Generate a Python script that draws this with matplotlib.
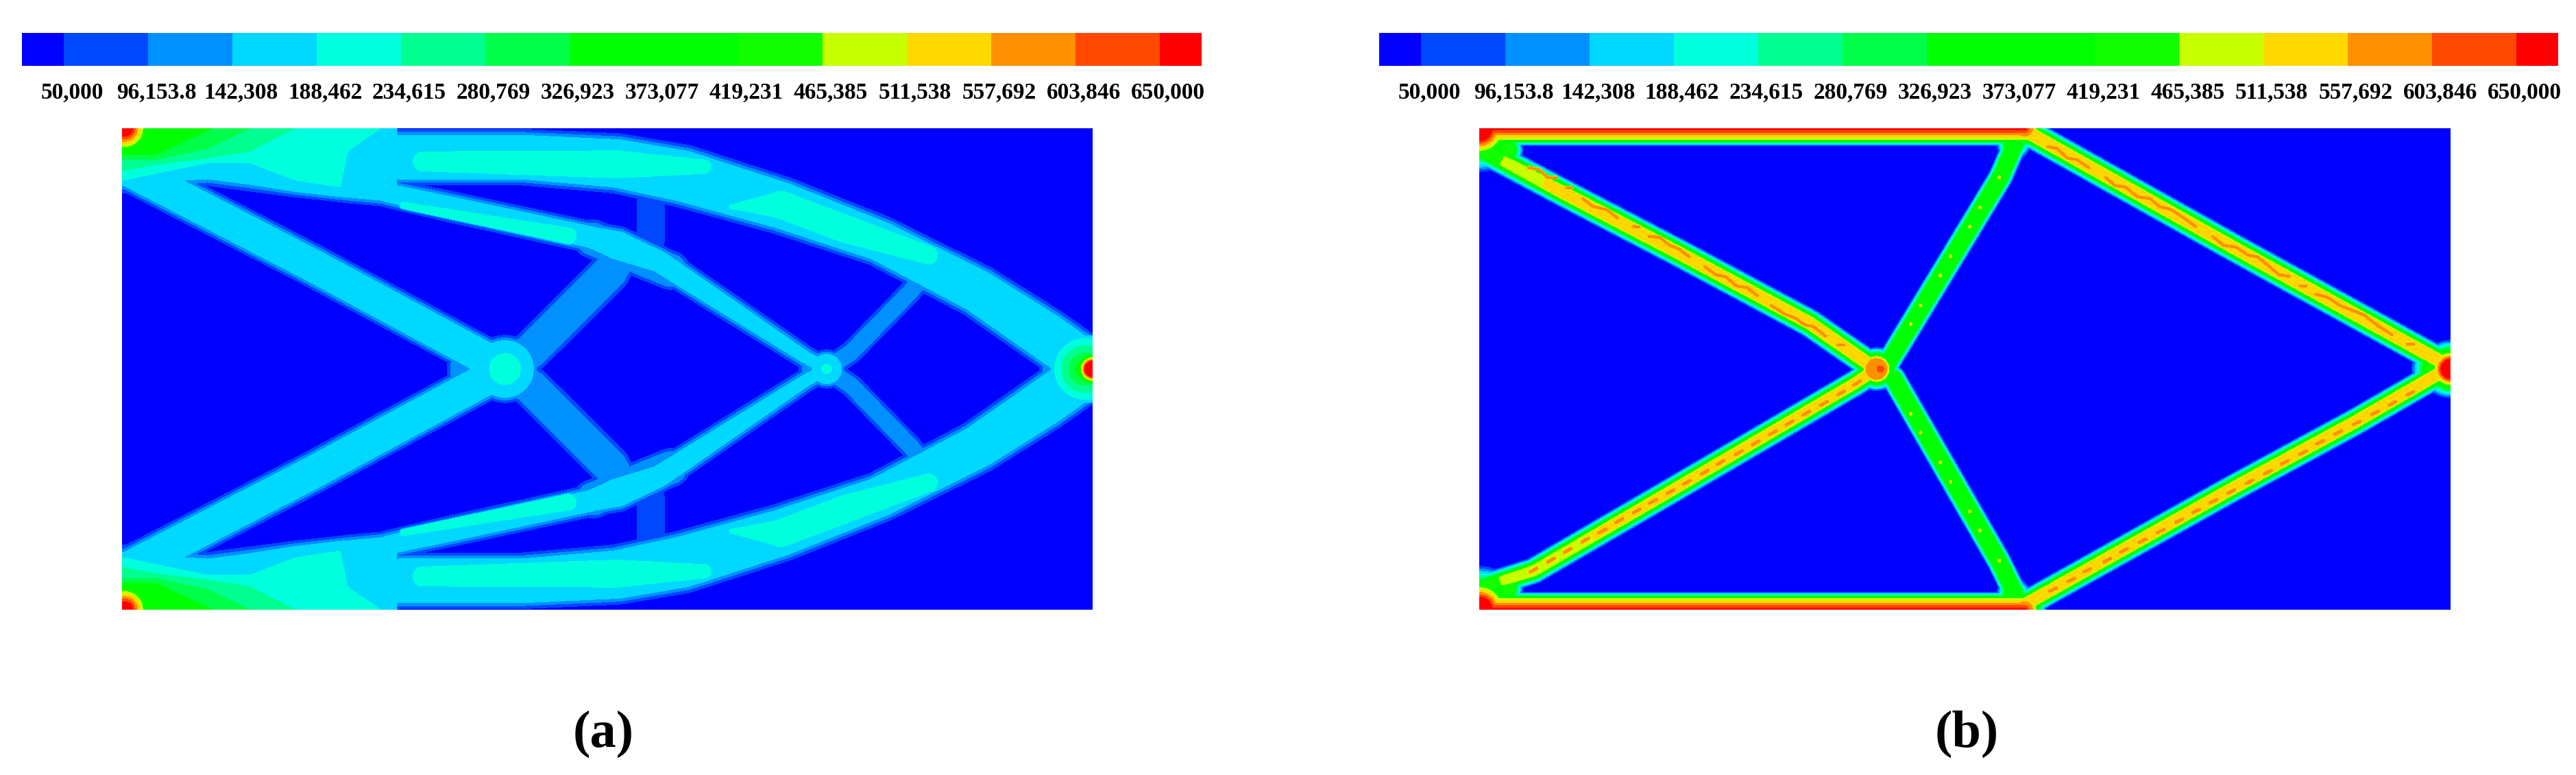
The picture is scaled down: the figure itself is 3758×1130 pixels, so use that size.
import numpy as np
import matplotlib
matplotlib.use("Agg")
import matplotlib.pyplot as plt
from matplotlib.transforms import ScaledTranslation

plt.rcParams['font.family'] = ['Liberation Serif', 'DejaVu Serif']

W, H = 3758, 1130
levels = [50000, 96153.8, 142308, 188462, 234615, 280769, 326923, 373077,
          419231, 465385, 511538, 557692, 603846, 650000]
level_labels = ['50,000', '96,153.8', '142,308', '188,462', '234,615', '280,769', '326,923',
                '373,077', '419,231', '465,385', '511,538', '557,692', '603,846', '650,000']
band_colors = ['#0000FF', '#0048FF', '#0090FF', '#00D8FF', '#00FFDC', '#00FF90', '#00FF48',
               '#00FF00', '#00FF00', '#12FF00', '#C8FF00', '#FFD800', '#FF9000', '#FF4800', '#FF0000']
panel_letters = ['(a)', '(b)']
BASE = 50000.0

# ---- Panel (a): stress field, top half (mirrored) ---------------------------
# Top-left band: depth (picture rows) at which each stress level is crossed, per station.
band_stations = [55, 150, 300, 420, 550, 680, 700, 795, 840]
band_stress = [390e3, 327e3, 281e3, 234e3, 188e3, 142e3, 96e3, 50e3]
band_depths = [[60, 55, -90, -90, -90, -90, -90, -90, -90],
               [120, 120, 45, -40, -60, -60, -60, -60, -60],
               [135, 135, 100, 38, -20, -40, -40, -40, -40],
               [170, 150, 130, 110, 38, 0, -20, -20, -20],
               [200, 178, 145, 145, 200, 222, 110, 38, 10],
               [215, 205, 195, 212, 234, 250, 252, 262, 266],
               [225, 218, 205, 222, 242, 258, 260, 270, 274],
               [238, 230, 215, 232, 250, 265, 268, 277, 282]]

# each entry: points, half width, peak stress, edge width, base stress
a_main_strut = ([(0, .42), (.393, .215), (.789, 0)], .044, 168e3, .014, BASE)
a_upper_chord = ([(.573, .44), (.825, .44), (1.02, .427), (1.155, .401), (1.358, .34),
                  (1.561, .266), (1.763, .162), (1.898, .072), (2, 0)],
                 [.058, .058, .062, .065, .06, .053, .056, .06, .06], 168e3, .016, BASE)
a_lower_chord = ([(.55, .365), (.681, .336), (.969, .273), (1.02, .257), (1.107, .223),
                  (1.407, .025), (1.452, 0)],
                 [.03, .032, .033, .04, .033, .024, .024], [165e3] * 5 + [158e3] * 2, .014, BASE)
a_lobe_skirt = ([(.97, .27), (1.13, .205)], .04, 120e3, .01, BASE)
a_cross_1 = ([(.789, 0), (.843, .038), (1.005, .201), (1.05, .25)], [.042, .042, .042, .028], 120e3, .011, BASE)
a_cross_2 = ([(1.452, 0), (1.503, .035), (1.623, .159), (1.65, .19)], .023, 120e3, .01, BASE)
a_web = ([(1.09, .35), (1.09, .27)], .028, 90e3, .01, BASE)
a_blobs = [([(1.43, 0)], .035, 120e3, .01, BASE),
           ([(.73, 0)], .06, 120e3, .01, BASE),
           ([(1.94, 0)], .05, 120e3, .012, BASE),
           ([(.789, 0)], .07, 168e3, .014, BASE),
           ([(.789, 0)], .035, 215e3, .006, 168e3),
           ([(1.452, 0)], .04, 168e3, .012, BASE),
           ([(1.452, 0)], .012, 210e3, .004, 168e3),
           ([(1.985, 0)], .07, 340e3, .055, 168e3),
           ([(2, 0)], .03, 800e3, .02, 300e3),
           ([(.005, .5)], .045, 800e3, .045, 400e3)]
a_patches = [([(.62, .431), (1.02, .425), (1.2, .42)], [.022, .03, .016], 215e3, .004, 168e3),
             ([(.58, .34), (.92, .277)], [.008, .018], 215e3, .004, 168e3),
             ([(1.256, .337), (1.358, .341), (1.493, .29), (1.662, .236)],
              [.006, .03, .03, .02], 215e3, .004, 168e3)]

# ---- Panel (b): points read in picture pixels of the two crops ---------------
b_left_upper = [(55, 100), (300, 240), (620, 420), (1000, 640), (1190, 782)]
b_left_lower = [(55, 1458), (210, 1405), (600, 1160), (1130, 825), (1190, 782)]
b_right_upper = [(120, 45), (800, 405), (1512, 775)]
b_right_lower = [(100, 1520), (800, 1150), (1200, 945), (1512, 775)]
b_zig_left = [[(195, 160), (225, 165), (250, 190), (275, 190)], [(305, 222), (318, 222)],
              [(350, 255), (380, 280), (420, 290), (450, 315)], [(495, 342), (512, 342)],
              [(540, 372), (570, 375), (600, 400), (625, 410), (655, 435)],
              [(700, 465), (730, 490), (760, 497), (790, 525), (820, 530), (850, 555)],
              [(890, 585), (925, 610), (960, 625), (985, 645), (1010, 650), (1045, 680)],
              [(1080, 707), (1098, 707)]]
b_zig_right = [[(195, 95), (225, 100), (260, 130), (290, 135), (330, 160)],
               [(385, 190), (415, 215), (450, 220), (490, 250), (530, 255), (560, 280),
                (600, 290), (640, 315), (680, 342)],
               [(735, 372), (770, 400), (810, 405), (850, 430), (880, 435), (920, 465),
                (950, 490), (985, 495)],
               [(1020, 525), (1040, 525)],
               [(1070, 550), (1110, 560), (1150, 585), (1190, 600), (1230, 615), (1270, 645),
                (1320, 675)],
               [(1370, 705), (1392, 705)]]
b_dash_left = [(210, 1403), (260, 1372), (308, 1342), (358, 1310), (407, 1282), (455, 1250),
               (505, 1220), (552, 1190), (602, 1160), (648, 1132), (700, 1100), (745, 1070),
               (797, 1040), (845, 1010), (895, 978), (942, 948), (990, 918), (1040, 888),
               (1090, 855), (1135, 825)]
b_dash_right = [(213, 1463), (272, 1433), (325, 1403), (390, 1372), (445, 1342), (505, 1312),
                (565, 1282), (625, 1250), (680, 1220), (737, 1190), (795, 1160), (855, 1130),
                (915, 1100), (970, 1070), (1030, 1040), (1085, 1008), (1145, 978), (1205, 948),
                (1265, 917), (1322, 888), (1380, 857)]
b_dots = [(1542, 190), (1486, 283), (1457, 342), (1402, 433), (1373, 493), (1317, 585), (1288, 643),
          (1288, 920), (1317, 978), (1373, 1070), (1402, 1130), (1457, 1222), (1486, 1280), (1542, 1373)]
b_member_up = [(.839, .008), (1.073, .398), (1.10, .46)]
b_member_down = [(.853, -.019), (1.07, -.399), (1.10, -.46)]
b_chord_x_end = 1.123


def lf(p):   # left crop of panel (b)
    return ((p[0] / 1.96 - 28) / 708.5, .5 - (p[1] - 38) / 1487)


def rt(p):   # right crop of panel (b)
    return ((742 + p[0] / 2.24) / 708.5, .5 - (p[1] - 38) / 1487)


nx, ny = 1401, 701
xg = np.linspace(0, 2, nx)
yg = np.linspace(-.5, .5, ny)
Xg, Yg = np.meshgrid(xg, yg)


def add(F, YY, pts, hw, peak, edge, base=BASE):
    pts = np.asarray(pts, float)
    n = len(pts)
    hw = np.broadcast_to(hw, (n,)).astype(float)
    peak = np.broadcast_to(peak, (n,)).astype(float)
    edge = np.broadcast_to(edge, (n,)).astype(float)
    if n == 1:
        pts = np.vstack([pts, pts]); hw = np.r_[hw, hw]; peak = np.r_[peak, peak]; edge = np.r_[edge, edge]
        n = 2
    for i in range(n - 1):
        a, b = pts[i], pts[i + 1]
        ab = b - a
        L2 = max(ab @ ab, 1e-12)
        t = np.clip(((Xg - a[0]) * ab[0] + (YY - a[1]) * ab[1]) / L2, 0, 1)
        d = np.hypot(Xg - a[0] - t * ab[0], YY - a[1] - t * ab[1])
        h = hw[i] + t * (hw[i + 1] - hw[i])
        pk = peak[i] + t * (peak[i + 1] - peak[i])
        e = edge[i] + t * (edge[i + 1] - edge[i])
        v = np.minimum(base + (pk - base) * (h - d) / e, pk)
        if base > BASE:
            v = np.where(d < h, v, 0)
        F = np.maximum(F, v)
    return F


def top_band(F, YY):
    st_x = (np.array(band_stations) / 1.96 - 28) / 708
    depth = (.5 - YY)
    rows = (np.array(band_depths, float) - 38) / 1487
    for j in range(nx):
        if xg[j] > st_x[-1]:
            break
        col = [np.interp(xg[j], st_x, r) for r in rows]
        dL = np.r_[-1.0, col, col[-1] + .02]
        vL = np.r_[700e3, band_stress, 0.0]
        v = np.interp(depth[:, j], dL, vL)
        F[:, j] = np.maximum(F[:, j], v)
    return F


# panel (a)
Fa = np.zeros_like(Xg)
Ya = np.abs(Yg)
Fa = top_band(Fa, Ya)
for item in [a_main_strut, a_upper_chord, a_lower_chord, a_lobe_skirt, a_cross_1, a_cross_2, a_web] + a_blobs + a_patches:
    Fa = add(Fa, Ya, *item)

# panel (b)
Fb = np.zeros_like(Xg)
for sign in (1, -1):
    chord = [(0, sign * .5), (b_chord_x_end, sign * .5)]
    Fb = add(Fb, Yg, chord, .037, 465e3, .014)
    Fb = add(Fb, Yg, chord, .024, 690e3, .024, 465e3)
    Fb = add(Fb, Yg, [(0, sign * .5)], .09, 900e3, .09)
    Fb = add(Fb, Yg, [(b_chord_x_end, sign * .5)], .045, 585e3, .03)
    Fb = add(Fb, Yg, [(1.10, sign * .47)], .035, 400e3, .02)
    Fb = add(Fb, Yg, [(.06, sign * .455)], .03, 450e3, .02)
Fb = add(Fb, Yg, [lf(p) for p in b_left_upper], .029, [440e3, 535e3, 535e3, 535e3, 535e3], .019)
Fb = add(Fb, Yg, [lf(p) for p in b_left_lower], .027, [440e3, 505e3, 520e3, 520e3, 520e3], .018)
Fb = add(Fb, Yg, [rt(p) for p in b_right_upper], .029, 535e3, .019)
Fb = add(Fb, Yg, [rt(p) for p in b_right_lower], .028, 525e3, .018)
Fb = add(Fb, Yg, b_member_up, .025, 400e3, .012)
Fb = add(Fb, Yg, b_member_down, .025, 400e3, .012)
for z in b_zig_left:
    Fb = add(Fb, Yg, [lf(p) for p in z], .003, 585e3, .0015, 530e3)
for z in b_zig_right:
    Fb = add(Fb, Yg, [rt(p) for p in z], .003, 585e3, .0015, 530e3)
for c in b_dash_left:
    cx, cy = lf(c)
    Fb = add(Fb, Yg, [(cx - .007, cy - .004), (cx + .007, cy + .004)], .0035, 585e3, .0015, 515e3)
for c in b_dash_right:
    cx, cy = rt(c)
    Fb = add(Fb, Yg, [(cx - .007, cy - .0035), (cx + .007, cy + .0035)], .0035, 585e3, .0015, 515e3)
for c in b_dots:
    Fb = add(Fb, Yg, [lf(c)], .004, 520e3, .002, 400e3)
Fb = add(Fb, Yg, [(.818, 0)], .045, 590e3, .025)
Fb = add(Fb, Yg, [(.826, 0)], .008, 630e3, .003, 590e3)
Fb = add(Fb, Yg, [(2, 0)], .06, 800e3, .05)
Fb = add(Fb, Yg, [(1.97, 0)], .05, 430e3, .03)

fig = plt.figure(figsize=(W / 100, H / 100), dpi=100, facecolor='white')


def rect(x0, y0, x1, y1):
    return [x0 / W, 1 - y1 / H, (x1 - x0) / W, (y1 - y0) / H]


def colorbar(x0, x1):
    ax = fig.add_axes(rect(x0, 48, x1, 96))
    step = levels[1] - levels[0]
    edges = [levels[0] - step * 0.5] + levels + [levels[-1] + step * 0.5]
    ax.bar(edges[:-1], [1] * 15, width=np.diff(edges), align='edge', color=band_colors, linewidth=0)
    ax.set_xlim(edges[0], edges[-1])
    ax.set_ylim(0, 1)
    ax.set_yticks([])
    for s in ax.spines.values():
        s.set_visible(False)
    ax.set_xticks(levels, level_labels, fontsize=24, fontweight='bold')
    ax.tick_params(axis='x', length=0, pad=17)
    off = ScaledTranslation(12 / 100, 0, fig.dpi_scale_trans)
    for lab in ax.get_xticklabels():
        lab.set_transform(lab.get_transform() + off)


def panel(x0, x1, F):
    ax = fig.add_axes(rect(x0, 187, x1, 889))
    ax.contourf(Xg, Yg, F, levels=levels, colors=band_colors, extend='both', antialiased=False)
    ax.set_xlim(0, 2)
    ax.set_ylim(-.5, .5)
    ax.axis('off')


colorbar(32, 1753)
colorbar(2012, 3732)
panel(178, 1594, Fa)
panel(2158, 3575, Fb)
for cx, s in zip([880, 2869], panel_letters):
    fig.text(cx / W, 1 - 1070 / H, s, ha='center', va='center', fontsize=55, fontweight='bold')
fig.savefig('out.png', dpi=100)
